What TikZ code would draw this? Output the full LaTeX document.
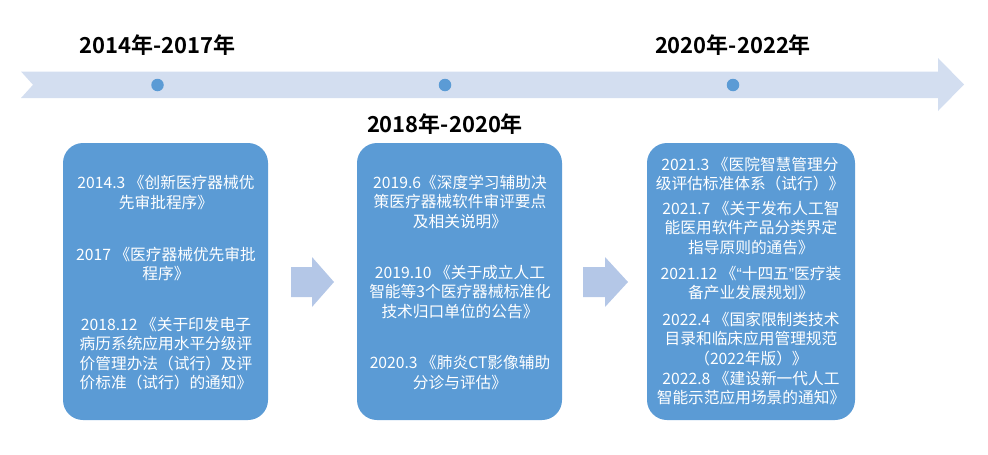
\documentclass[tikz,border=0pt]{standalone}
\usepackage{fontspec}
\newfontfamily\cjk{Noto Sans CJK SC}
\newfontfamily\cjkb{Noto Sans CJK SC Bold}
\newfontfamily\lat{Liberation Sans}
\definecolor{boxblue}{HTML}{5B9BD5}
\definecolor{bandblue}{HTML}{D3DEF0}
\definecolor{arrblue}{HTML}{B4C7E7}
\begin{document}
\begin{tikzpicture}[x=1pt,y=-1pt,
  card/.style={fill=boxblue,draw=none,rounded corners=20pt,inner sep=0pt},
  para/.style={text=white,align=center,font=\cjk\fontsize{15.7}{19.5}\selectfont,inner sep=0pt},
  period/.style={text=black,font=\cjkb\fontsize{22}{24}\selectfont,inner sep=0pt},
  dot/.style={circle,fill=boxblue,draw=none,minimum size=12.5pt,inner sep=0pt}]
\useasboundingbox (0,0) rectangle (988,455);
% timeline band
\fill[bandblue] (21,71.5) -- (938,71.5) -- (938,58) -- (964,84.5) -- (938,111) -- (938,98) -- (21,98) -- (33,84.8) -- cycle;
\node[dot] (d1) at (157.5,85) {};
\node[dot] (d2) at (445,85) {};
\node[dot] (d3) at (733,85) {};
% period labels
\node[period] (t1) at (157.5,45) {2014年-2017年};
\node[period] (t2) at (445,124) {2018年-2020年};
\node[period] (t3) at (733,45) {2020年-2022年};
% cards
\path[card] (63,143) rectangle (268,420);
\node[inner sep=0pt,minimum width=205pt,minimum height=277pt] (b1) at (165.5,281.5) {};
\path[card] (357,143) rectangle (562,420);
\node[inner sep=0pt,minimum width=205pt,minimum height=277pt] (b2) at (459.5,281.5) {};
\path[card] (647,143) rectangle (855,420);
\node[inner sep=0pt,minimum width=208pt,minimum height=277pt] (b3) at (751,281.5) {};
% block arrows
\fill[arrblue] (291,267) -- (312,267) -- (312,257) -- (334,282) -- (312,307) -- (312,297) -- (291,297) -- cycle;
\fill[arrblue] (583,267) -- (605,267) -- (605,257) -- (628,282) -- (605,307) -- (605,297) -- (583,297) -- cycle;
% card 1 texts
\node[para] (p11) at (166,192.5) {2014.3 《创新医疗器械优\\先审批程序》};
\node[para] (p12) at (166,264) {2017 《医疗器械优先审批\\程序》};
\node[para] (p13) at (166,353.5) {2018.12 《关于印发电子\\病历系统应用水平分级评\\价管理办法（试行）及评\\价标准（试行）的通知》};
% card 2 texts
\node[para] (p21) at (460,202) {2019.6《深度学习辅助决\\策医疗器械软件审评要点\\及相关说明》};
\node[para] (p22) at (460,292) {2019.10 《关于成立人工\\智能等3个医疗器械标准化\\技术归口单位的公告》};
\node[para] (p23) at (460,372.5) {2020.3 《肺炎CT影像辅助\\分诊与评估》};
% card 3 texts
\node[para] (p31) at (750,174) {2021.3 《医院智慧管理分\\级评估标准体系（试行）》};
\node[para] (p32) at (751,228) {2021.7 《关于发布人工智\\能医用软件产品分类界定\\指导原则的通告》};
\node[para] (p33) at (751,283) {2021.12 《{\lat “}十四五{\lat ”}医疗装\\备产业发展规划》};
\node[para] (p34) at (751,339) {2022.4 《国家限制类技术\\目录和临床应用管理规范\\（2022年版）》};
\node[para] (p35) at (751,388) {2022.8 《建设新一代人工\\智能示范应用场景的通知》};
\end{tikzpicture}
\end{document}
